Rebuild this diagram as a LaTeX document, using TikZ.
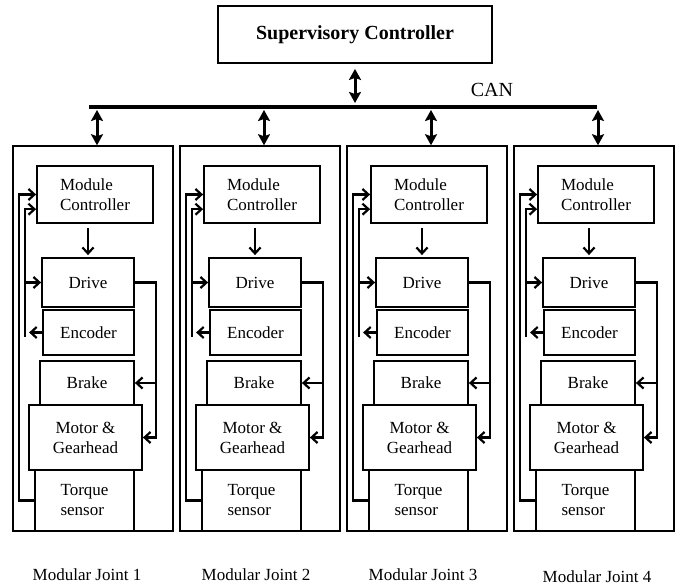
\documentclass[tikz,border=0pt]{standalone}
\usepackage{fontspec}
\setmainfont{Liberation Serif}
\usetikzlibrary{arrows.meta,calc}

\tikzset{
  blk/.style={draw, line width=1.8pt, inner sep=0pt, font=\fontsize{17}{20}\selectfont},
  joint/.style={draw, line width=1.5pt, minimum width=160pt, minimum height=385pt},
  sig/.style={line width=2.2pt, -{Straight Barb[length=6pt,width=11pt]}},
  dbl/.style={line width=3pt, {Stealth[length=11pt,width=12pt,inset=2pt]}-{Stealth[length=11pt,width=12pt,inset=2pt]}},
}

\begin{document}
\begin{tikzpicture}[x=1pt,y=-1pt]
\useasboundingbox (0,0) rectangle (677,588);
% supervisory level and CAN bus
\node[blk, font=\fontsize{20}{24}\selectfont\bfseries, minimum width=274pt, minimum height=57pt] (sup) at (355,34.5) {Supervisory Controller};
\coordinate (busL) at (89,107);
\coordinate (busR) at (597,107);
\draw[line width=4.5pt] (busL) -- (busR);
\node[font=\fontsize{20}{24}\selectfont] (can) at (492,90) {CAN};
\draw[dbl, shorten <=5pt, shorten >=4pt] (sup.south) -- (sup.south |- busL);
% the four joints
\foreach \i in {1,...,4}{
  \pgfmathsetmacro{\xo}{13+167*(\i-1)}
  \node[joint] (box\i) at (\xo+80,338.5) {};
  \coordinate (top\i) at ([xshift=4pt]box\i.north);
  \draw[dbl, shorten <=3pt] (top\i |- busL) -- (top\i);
  \node[blk, align=left, minimum width=116pt, minimum height=57pt] (mc\i) at (\xo+82,194.5) {Module\\Controller};
  \node[blk, minimum width=92pt, minimum height=49pt] (drv\i) at (\xo+75,282.5) {Drive};
  \node[blk, minimum width=91pt, minimum height=45pt] (enc\i) at (\xo+75.5,332.5) {Encoder};
  \node[blk, minimum width=94pt, minimum height=44pt] (brk\i) at (\xo+74,383) {Brake};
  \node[blk, align=center, minimum width=113pt, minimum height=65pt] (mot\i) at (\xo+72.5,437.5) {Motor \&\\Gearhead};
  \node[blk, align=left, minimum width=99pt, minimum height=61pt] (trq\i) at (\xo+71.5,500.5) {Torque\\sensor};
  % feedback paths
  \coordinate (fb\i) at (\xo+12,337);
  \coordinate (rt\i) at (\xo+143,437.5);
  \draw[sig, shorten <=4pt, shorten >=2pt] (drv\i.north |- mc\i.south) -- (drv\i.north);
  \draw[sig] (trq\i.west) -- ++(-15,0) |- (mc\i.west);
  \draw[sig] (fb\i) |- ($(mc\i.west)!.5!(mc\i.south west)$);
  \draw[sig] (fb\i |- drv\i.west) -- (drv\i.west);
  \draw[sig] (enc\i.west) -- ++(-13,0);
  \draw[sig] (drv\i.east) -| (rt\i) -- (mot\i.east);
  \draw[sig] (rt\i |- brk\i.east) -- (brk\i.east);
}
% joint labels
\foreach \i/\lx/\ly in {1/87/575,2/256/575,3/423/575,4/597/577}
  \node[font=\fontsize{17}{20}\selectfont] (lab\i) at (\lx,\ly) {Modular Joint \i};
\end{tikzpicture}
\end{document}
